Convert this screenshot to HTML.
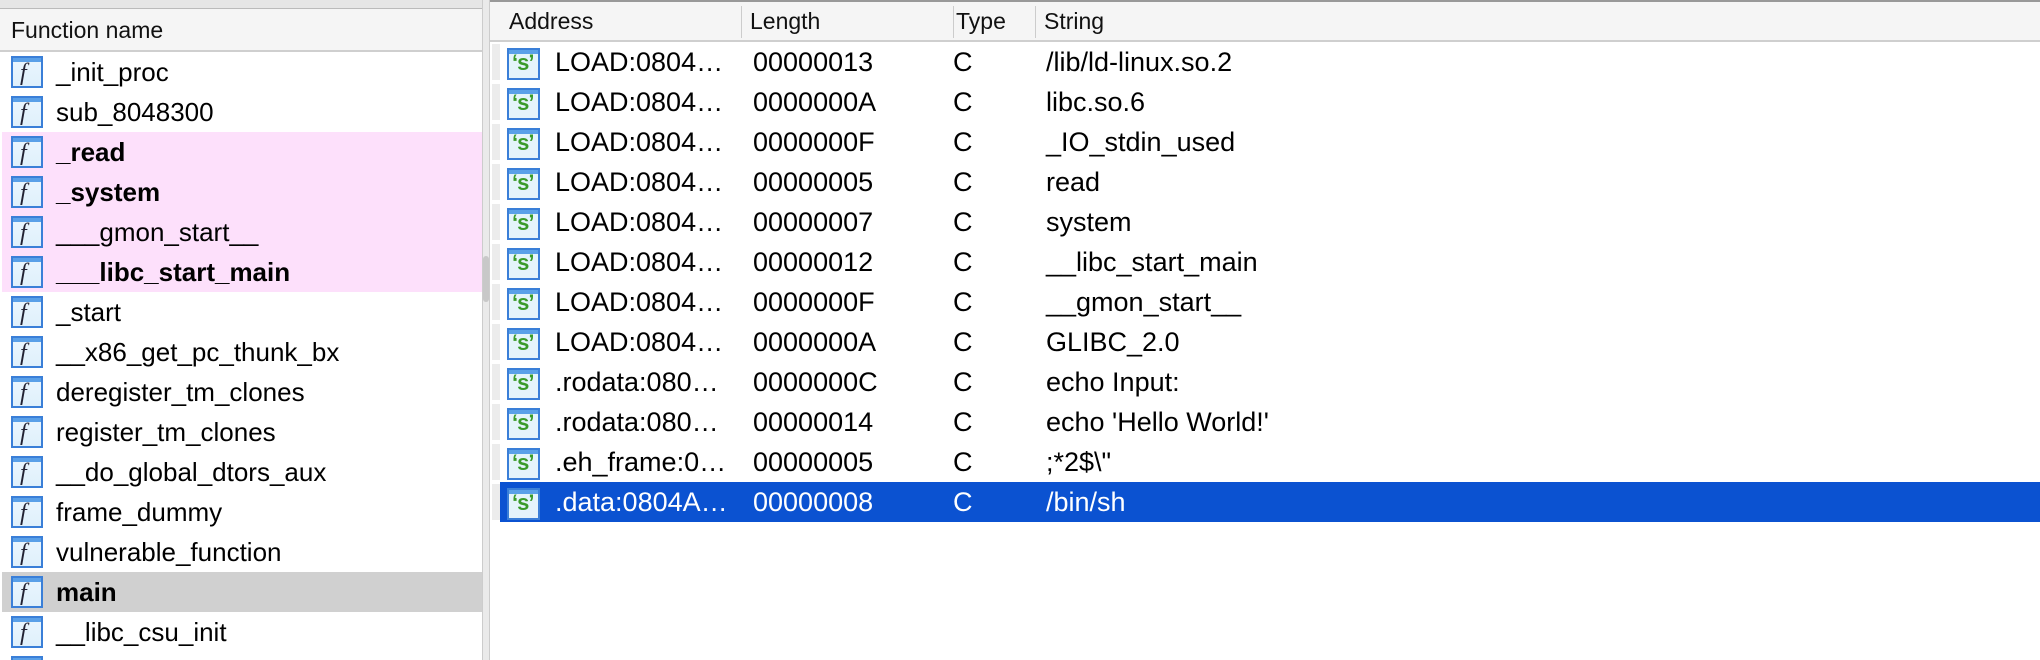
<!DOCTYPE html>
<html><head><meta charset="utf-8"><style>
*{margin:0;padding:0;box-sizing:border-box}
html,body{width:2040px;height:660px;overflow:hidden}
body{background:#fff;font-family:"Liberation Sans",Arial,sans-serif;position:relative}
.a{position:absolute;white-space:nowrap}
.t{font-size:26px;line-height:40px;color:#000}
.r{font-size:27px;line-height:40px;color:#000}
.h{font-size:23px;line-height:40px;color:#111}
.fi{position:absolute;width:32px;height:32px;border:2px solid #3a7fd8;background:linear-gradient(#eaf6ff,#dff0fb);}
.fi:before{content:"";position:absolute;left:0;right:0;top:0;height:4px;background:#5aa0e8}
.fi span{position:absolute;left:7px;top:2px;font:italic 24px "Liberation Serif",serif;color:#223}
.si{position:absolute;width:33px;height:32px;border:2px solid #3a7fd8;background:#e4f4fb}
.si:before{content:"";position:absolute;left:0;right:0;top:0;height:4px;background:#5aa0e8}
.si span{position:absolute;left:3px;top:0px;font:bold 22px "Liberation Sans",sans-serif;color:#3a9a2a;letter-spacing:-1px}
</style></head><body>
<div class="a" style="left:0;top:0;width:490px;height:9px;background:#e6e6e6;border-bottom:1px solid #bbb"></div>
<div class="a" style="left:0;top:9px;width:482px;height:43px;background:#f5f5f5;border-bottom:2px solid #cfcfcf"></div>
<div class="a h" style="left:11px;top:10px">Function name</div>
<div class="a" style="left:2px;top:132px;width:480px;height:160px;background:#fde0fb"></div>
<div class="a" style="left:2px;top:572px;width:480px;height:40px;background:#d0d0d0"></div>
<div class="a" style="left:482px;top:0;width:8px;height:660px;background:#eaeaea;border-left:1px solid #ccc;border-right:1px solid #ccc"></div>
<div class="a" style="left:483px;top:256px;width:6px;height:46px;background:#c8c8c8;border-radius:3px"></div>
<div id="L"></div>
<div class="a" style="left:490px;top:0;width:1550px;height:2px;background:#999"></div>
<div class="a" style="left:490px;top:2px;width:1550px;height:40px;background:#f5f5f5;border-bottom:2px solid #cfcfcf"></div>
<div class="a" style="left:741px;top:6px;width:1px;height:32px;background:#ccc"></div>
<div class="a" style="left:953px;top:6px;width:1px;height:32px;background:#ccc"></div>
<div class="a" style="left:1035px;top:6px;width:1px;height:32px;background:#ccc"></div>
<div class="a h" style="left:509px;top:1px">Address</div>
<div class="a h" style="left:750px;top:1px">Length</div>
<div class="a h" style="left:956px;top:1px">Type</div>
<div class="a h" style="left:1044px;top:1px">String</div>
<div class="a" style="left:500px;top:482px;width:1540px;height:40px;background:#0b52d1"></div>
<div id="R"></div>
<script>
var f=["_init_proc","sub_8048300","<b>_read</b>","<b>_system</b>","___gmon_start__","<b>___libc_start_main</b>","_start","__x86_get_pc_thunk_bx","deregister_tm_clones","register_tm_clones","__do_global_dtors_aux","frame_dummy","vulnerable_function","<b>main</b>","__libc_csu_init",""];
var h="";
f.forEach(function(n,i){var y=52+40*i;h+='<div class="fi" style="left:11px;top:'+(y+4)+'px"><span>f</span></div>';if(n)h+='<div class="a t" style="left:56px;top:'+y+'px">'+n+'</div>';});
document.getElementById("L").outerHTML=h;
var E="\u2026";
var r=[["LOAD:0804"+E,"00000013","/lib/ld-linux.so.2"],["LOAD:0804"+E,"0000000A","libc.so.6"],["LOAD:0804"+E,"0000000F","_IO_stdin_used"],["LOAD:0804"+E,"00000005","read"],["LOAD:0804"+E,"00000007","system"],["LOAD:0804"+E,"00000012","__libc_start_main"],["LOAD:0804"+E,"0000000F","__gmon_start__"],["LOAD:0804"+E,"0000000A","GLIBC_2.0"],[".rodata:080"+E,"0000000C","echo Input:"],[".rodata:080"+E,"00000014","echo 'Hello World!'"],[".eh_frame:0"+E,"00000005",";*2$\\\""],[".data:0804A"+E,"00000008","/bin/sh"]];
h="";
r.forEach(function(v,i){var y=42+40*i;var c=i==11?"color:#fff;":"";
h+='<div class="a" style="left:492px;top:'+(y+2)+'px;width:8px;height:36px;background:#ececec"></div>';
h+='<div class="si" style="left:507px;top:'+(y+6)+'px"><span>\u2018s\u2019</span></div>';
h+='<div class="a r" style="'+c+'left:555px;top:'+y+'px">'+v[0]+'</div>';
h+='<div class="a r" style="'+c+'left:753px;top:'+y+'px">'+v[1]+'</div>';
h+='<div class="a r" style="'+c+'left:953px;top:'+y+'px">C</div>';
h+='<div class="a r" style="'+c+'left:1046px;top:'+y+'px">'+v[2].replace(/</g,"&lt;")+'</div>';});
document.getElementById("R").outerHTML=h;
</script>
</body></html>
